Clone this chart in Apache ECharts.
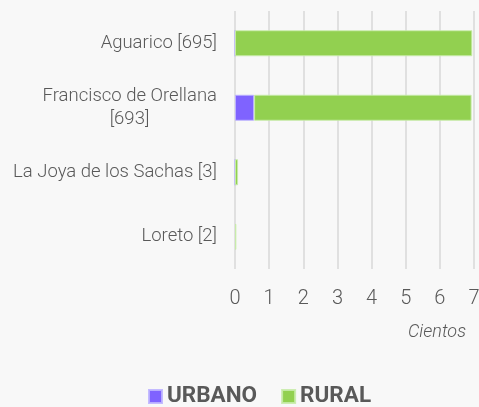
<!DOCTYPE html>
<html>
<head>
<meta charset="utf-8">
<script src="https://cdn.jsdelivr.net/npm/echarts@6/dist/echarts.min.js"></script>
<style>
  html, body { margin: 0; padding: 0; background: #f8f8f8; }
  #chart { width: 479px; height: 407px; }
</style>
</head>
<body>
<div id="chart"></div>
<script>
// categories (top to bottom), values in units
const cantones = ['Aguarico [695]', 'Francisco de Orellana\n[693]', 'La Joya de los Sachas [3]', 'Loreto [2]']
const urbano = [0, 56, 0, null]
const rural = [695, 637, 9, 4]
const seriesNames = ['URBANO', 'RURAL']
const ticks = [0, 100, 200, 300, 400, 500, 600, 700]

const labelFamily = 'Roboto'
const labelFont = '300 18.5px Roboto'
const textColor = '#595959'

// width of first line so the second line can be centred under it
function lineWidth(txt) {
  const c = document.createElement('canvas').getContext('2d')
  c.font = labelFont
  return Math.ceil(c.measureText(txt).width)
}

const chart = echarts.init(document.getElementById('chart'))

const option = {
  backgroundColor: '#f8f8f8',
  animation: false,
  grid: { left: 235, right: 5, top: 11, bottom: 138, outerBoundsMode: 'none', containLabel: false },
  xAxis: {
    type: 'value',
    min: ticks[0],
    max: ticks[ticks.length - 1],
    interval: 100,
    axisLine: { show: false },
    axisTick: { show: false },
    splitLine: { lineStyle: { color: '#d9d9d9', width: 1.5 } },
    axisLabel: {
      color: textColor, fontFamily: 'Roboto', fontWeight: 300, fontSize: 20, margin: 20,
      formatter: v => String(v / 100)
    }
  },
  yAxis: {
    type: 'category',
    inverse: true,
    data: cantones,
    axisLine: { show: false },
    axisTick: { show: false },
    axisLabel: {
      color: textColor, fontFamily: labelFamily, fontWeight: 300, fontSize: 18.5, margin: 18,
      lineHeight: 23,
      formatter: v => {
        const parts = v.split('\n')
        if (parts.length < 2) return v
        return parts[0] + '\n{c|' + parts[1] + '}'
      },
      rich: {
        c: {
          width: lineWidth('Francisco de Orellana'), align: 'center',
          color: textColor, fontFamily: labelFamily, fontWeight: 300, fontSize: 18.5, lineHeight: 23
        }
      }
    }
  },
  legend: {
    left: 148, top: 385, padding: 0,
    itemWidth: 13, itemHeight: 13, itemGap: 24,
    icon: 'rect',
    textStyle: { color: textColor, fontFamily: 'Roboto', fontWeight: 'bold', fontSize: 22.5 },
    data: seriesNames
  },
  graphic: [{
    type: 'text', right: 13, top: 323,
    style: { text: 'Cientos', fill: textColor, font: 'italic 300 18px Roboto' }
  }],
  series: [
    {
      name: seriesNames[0], type: 'bar', stack: 'total', barWidth: 26,
      itemStyle: { color: '#7f63ff', borderColor: 'rgba(190,180,255,0.9)', borderWidth: 1 },
      data: urbano
    },
    {
      name: seriesNames[1], type: 'bar', stack: 'total', barWidth: 26,
      itemStyle: { color: '#92d050', borderColor: 'rgba(200,235,170,0.9)', borderWidth: 1 },
      data: rural
    }
  ]
}

chart.setOption(option)
</script>
</body>
</html>
